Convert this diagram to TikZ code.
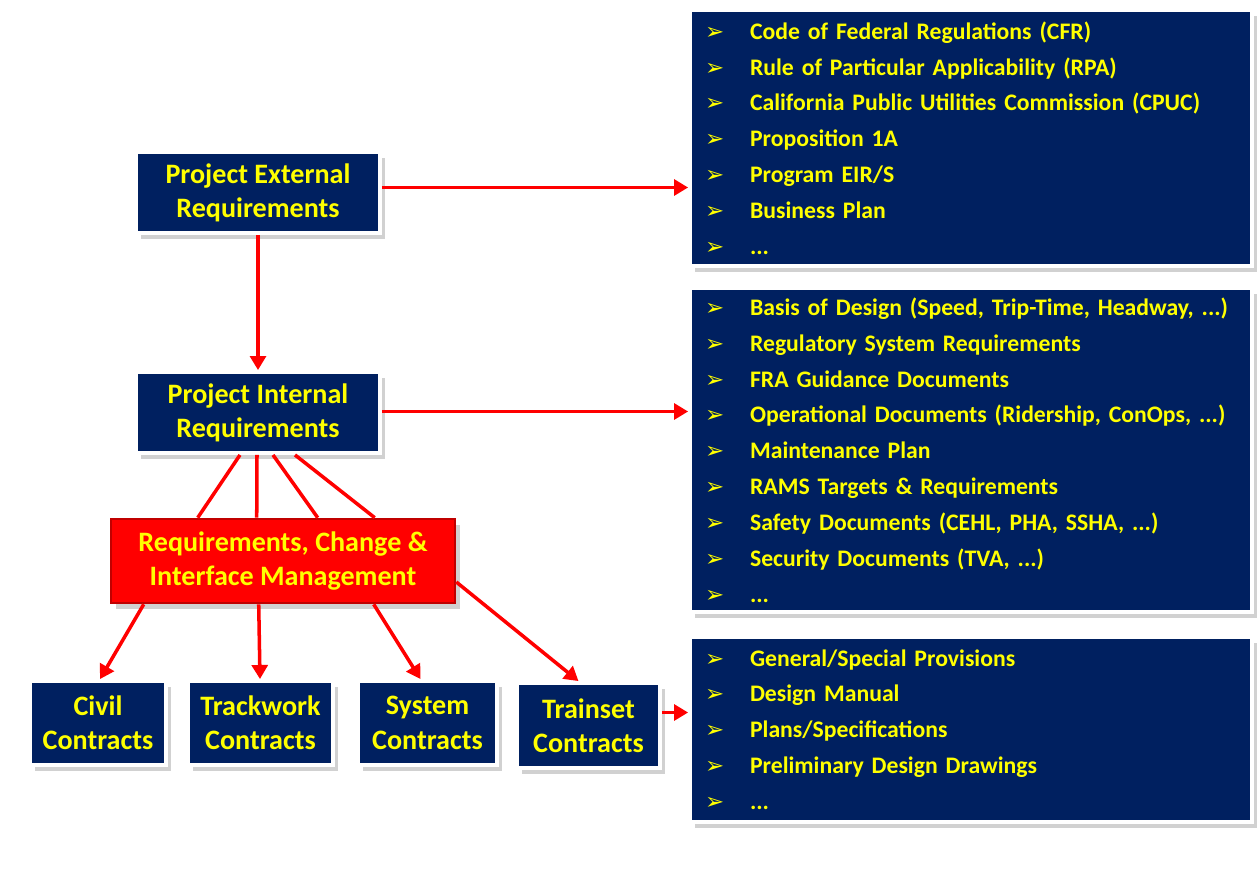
\documentclass[tikz,border=0pt]{standalone}
\usepackage{fontspec}
\setmainfont{Carlito}
\newfontfamily\bulfont{DejaVu Sans}
\usetikzlibrary{shadows,arrows.meta,calc}
\definecolor{navy}{HTML}{002060}
\definecolor{ylw}{HTML}{FFFF00}
\definecolor{rbox}{HTML}{FF0000}
\definecolor{rborder}{HTML}{C00000}
\newcommand{\bul}{\makebox[0.9cm][l]{\bulfont\bfseries\fontsize{13}{13}\selectfont ➢}}
\tikzset{
  sh/.style={drop shadow={shadow xshift=3pt,shadow yshift=-3.5pt,fill=black!45,opacity=0.4}},
  navybox/.style={sh,fill=navy,draw=white,line width=2.2pt,text=ylw,font=\bfseries\fontsize{16}{19.5}\selectfont,align=center,inner sep=0pt},
  listbox/.style={sh,fill=navy,draw=white,line width=2.2pt,text=ylw,font=\bfseries\fontsize{13.5}{20.4}\selectfont,align=left,inner xsep=0.3cm,inner ysep=0pt,text width=10.64cm,minimum width=11.24cm},
  redbox/.style={sh,fill=rbox,draw=rborder,line width=1.5pt,text=ylw,font=\bfseries\fontsize{16}{19}\selectfont,align=center,inner sep=0pt},
  arr/.style={draw=red,line width=2pt,-{Triangle[length=8pt,width=9pt]}},
  ln/.style={draw=red,line width=2pt}
}
\begin{document}
\begin{tikzpicture}[x=0.02cm,y=-0.02cm]
\useasboundingbox (0,0) rectangle (1257,869);
% left column
\node[navybox,minimum width=4.88cm,minimum height=1.62cm] (ext) at (258,192.5) {Project External\\Requirements};
\node[navybox,minimum width=4.88cm,minimum height=1.62cm] (int) at (258,412.5) {Project Internal\\Requirements};
\node[redbox,minimum width=6.88cm,minimum height=1.68cm] (rim) at (283,561) {Requirements, Change \&\\Interface Management};
\node[navybox,minimum width=2.72cm,minimum height=1.68cm] (civil) at (98,723) {Civil\\Contracts};
\node[navybox,minimum width=2.90cm,minimum height=1.68cm] (track) at (260.5,723) {Trackwork\\Contracts};
\node[navybox,minimum width=2.78cm,minimum height=1.68cm] (sys) at (427.5,723) {System\\Contracts};
\node[navybox,minimum width=2.86cm,minimum height=1.70cm] (train) at (588.5,725.5) {Trainset\\Contracts};
% right lists
\node[listbox,minimum height=5.12cm] (l1) at (971,138) {%
\bul Code of Federal Regulations (CFR)\\
\bul Rule of Particular Applicability (RPA)\\
\bul California Public Utilities Commission (CPUC)\\
\bul Proposition 1A\\
\bul Program EIR/S\\
\bul Business Plan\\
\bul ...};
\node[listbox,minimum height=6.48cm] (l2) at (971,450) {%
\bul Basis of Design (Speed, Trip-Time, Headway, ...)\\
\bul Regulatory System Requirements\\
\bul FRA Guidance Documents\\
\bul Operational Documents (Ridership, ConOps, ...)\\
\bul Maintenance Plan\\
\bul RAMS Targets \& Requirements\\
\bul Safety Documents (CEHL, PHA, SSHA, ...)\\
\bul Security Documents (TVA, ...)\\
\bul ...};
\node[listbox,minimum height=3.70cm] (l3) at (971,729.5) {%
\bul General/Special Provisions\\
\bul Design Manual\\
\bul Plans/Specifications\\
\bul Preliminary Design Drawings\\
\bul ...};
% connectors
\coordinate (e1) at ($(ext.east)+(0,-5)$);
\draw[arr] (e1) -- (e1 -| l1.west);
\draw[arr] (ext.south) -- (int.north);
\coordinate (i1) at ($(int.east)+(0,-1)$);
\draw[arr] (i1) -- (i1 -| l2.west);
\draw[ln] ($(int.south)+(-18,0)$) -- ($(rim.north west)+(88,0)$);
\draw[ln] ($(int.south)+(-1,0)$) -- ($(rim.north west)+(147,0)$);
\draw[ln] ($(int.south)+(15,0)$) -- ($(rim.north west)+(208,0)$);
\draw[ln] ($(int.south)+(37,0)$) -- ($(rim.north west)+(265,0)$);
\draw[arr] ($(rim.south west)+(34,0)$) -- ($(civil.north)+(2,0)$);
\draw[arr] ($(rim.south west)+(149,0)$) -- ($(track.north)+(-0.5,0)$);
\draw[arr] ($(rim.south west)+(264,0)$) -- ($(sys.north)+(-7,0)$);
\draw[arr] ($(rim.east)+(0,21)$) -- ($(train.north)+(-10,0)$);
\coordinate (t1) at ($(train.east)+(0,-13)$);
\draw[arr] (t1) -- (t1 -| l3.west);
\end{tikzpicture}
\end{document}
